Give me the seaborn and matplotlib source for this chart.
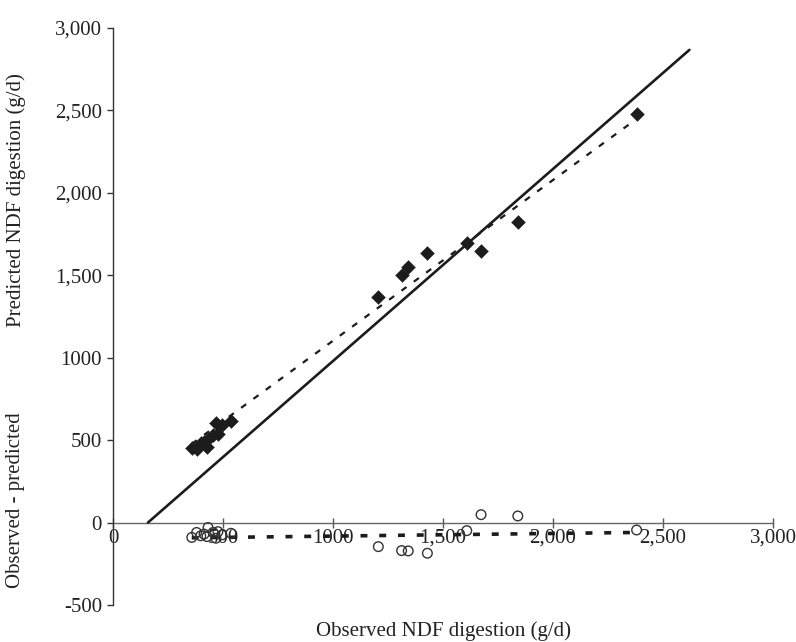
import numpy as np
import pandas as pd
import matplotlib
matplotlib.use("Agg")
import matplotlib.pyplot as plt
import seaborn as sns

# ---- data ----
observed = [358, 380, 399, 414, 427, 432, 455, 468, 477, 495, 536,
            1206, 1312, 1342, 1429, 1608, 1673, 1840, 2380]
predicted = [454, 448, 484, 490, 460, 508, 533, 606, 539, 594, 618,
             1367, 1501, 1552, 1633, 1693, 1650, 1823, 2478]
residual = [-90, -60, -80, -70, -85, -30, -60, -95, -55, -75, -65,
            -146, -170, -172, -186, -49, 48, 40, -45]

# solid reference line (slope / intercept) and its x extent
solid_slope, solid_intercept = 1.165, -185
solid_x = [159, 2620]
# dotted trend through predicted values
trend_slope, trend_intercept = 0.975, 128
trend_x = [358, 2380]
# dashed trend through residuals
resid_slope, resid_intercept = 0.016, -98
resid_x = [358, 2380]

x_ticks = [0, 500, 1000, 1500, 2000, 2500, 3000]
x_tick_labels = ["0", "500", "1000", "1,500", "2,000", "2,500", "3,000"]
y_ticks = [-500, 0, 500, 1000, 1500, 2000, 2500, 3000]
y_tick_labels = ["-500", "0", "500", "1000", "1,500", "2,000", "2,500", "3,000"]

# ---- style ----
sns.set_theme(style="white")
plt.rcParams["font.family"] = ["Liberation Serif", "DejaVu Serif"]
plt.rcParams["lines.scale_dashes"] = False
ink = "#1c1c1c"
txt = "#222222"
fs = 15

fig = plt.figure(figsize=(7.96, 6.42), dpi=100)
ax = fig.add_axes([113 / 796, 1 - 605 / 642, (773 - 113) / 796, (605 - 28) / 642])

df = pd.DataFrame({"observed": observed, "predicted": predicted, "residual": residual})

solid_df = pd.DataFrame({"x": solid_x,
                         "y": [solid_slope * v + solid_intercept for v in solid_x]})
trend_df = pd.DataFrame({"x": trend_x,
                         "y": [trend_slope * v + trend_intercept for v in trend_x]})
resid_df = pd.DataFrame({"x": resid_x,
                         "y": [resid_slope * v + resid_intercept for v in resid_x]})

sns.lineplot(data=solid_df, x="x", y="y", ax=ax, color=ink, lw=1.9, zorder=2)
sns.lineplot(data=trend_df, x="x", y="y", ax=ax, color=ink, lw=1.6,
             linestyle=(0, (4.5, 6.5)), zorder=2)
sns.lineplot(data=resid_df, x="x", y="y", ax=ax, color=ink, lw=2.6,
             linestyle=(0, (5, 8.5)), zorder=2)

sns.scatterplot(data=df, x="observed", y="predicted", ax=ax, marker="D",
                s=50, color=ink, edgecolor=ink, linewidth=0.3, zorder=3)
sns.scatterplot(data=df, x="observed", y="residual", ax=ax, marker="o",
                s=48, facecolor="none", edgecolor="#333333", linewidth=1.0, zorder=3)

ax.set_xlim(0, 3000)
ax.set_ylim(-500, 3000)

# y axis
ax.set_yticks(y_ticks)
ax.set_yticklabels(y_tick_labels, fontsize=fs, color=txt)
ax.tick_params(axis="y", direction="out", length=4, width=1, color="#333333",
               left=True, pad=4)
for s in ["top", "right", "bottom"]:
    ax.spines[s].set_visible(False)
ax.spines["left"].set_color("#333333")
ax.spines["left"].set_linewidth(1.0)

# x axis drawn along y = 0
ax.set_xticks([])
ax.set_xlabel("Observed NDF digestion (g/d)", fontsize=fs, color=txt, labelpad=12)
ax.set_ylabel("")
sec = ax.secondary_xaxis(500 / 3500)
sec.set_xticks(x_ticks)
sec.set_xticklabels(x_tick_labels, fontsize=fs, color=txt)
sec.tick_params(direction="inout", length=7, width=1, color="#555555", pad=1)
sec.spines["bottom"].set_color("#666666")
sec.spines["bottom"].set_linewidth(1.0)

fig.text(16 / 796, 1 - 200 / 642, "Predicted NDF digestion (g/d)", rotation=90,
         ha="center", va="center", fontsize=fs, color=txt)
fig.text(16 / 796, 1 - 500 / 642, "Observed - predicted", rotation=90,
         ha="center", va="center", fontsize=fs, color=txt)

fig.savefig("out.png", dpi=100)
